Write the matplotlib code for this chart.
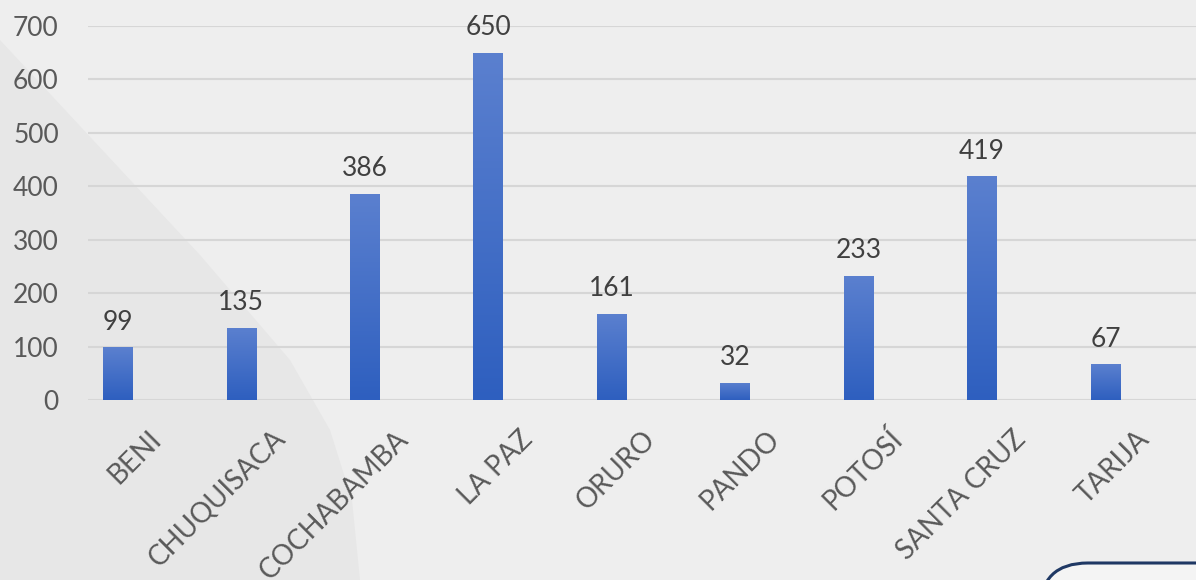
import numpy as np
import matplotlib
matplotlib.use("Agg")
import matplotlib.pyplot as plt
from matplotlib.patches import Polygon, FancyBboxPatch
from matplotlib.transforms import ScaledTranslation

# data
departamentos = ["BENI", "CHUQUISACA", "COCHABAMBA", "LA PAZ", "ORURO",
                 "PANDO", "POTOSÍ", "SANTA CRUZ", "TARIJA"]
casos = [99, 135, 386, 650, 161, 32, 233, 419, 67]
yticks = [0, 100, 200, 300, 400, 500, 600, 700]

plt.rcParams['font.family'] = ['Lato', 'DejaVu Sans']

fig = plt.figure(figsize=(11.96, 5.8), dpi=100)
fig.patch.set_facecolor("#eeeeee")

# darker background shape on the left
shape = Polygon([(0, 1 - 40/580), (200/1196, 1 - 255/580), (290/1196, 1 - 360/580),
                 (330/1196, 1 - 430/580), (352/1196, 1 - 500/580), (360/1196, 0), (0, 0)],
                closed=True, transform=fig.transFigure, facecolor="#e7e7e7",
                edgecolor="none", zorder=-10)
fig.patches.append(shape)

# rounded box in bottom-right corner
box = FancyBboxPatch((1040/1196, -0.1), 0.2, 0.1 + 17/580,
                     boxstyle="round,pad=0,rounding_size=0.04",
                     transform=fig.transFigure, facecolor="#f4f4f4",
                     edgecolor="#1f3864", linewidth=2.2, zorder=-5,
                     mutation_aspect=1196/580)
fig.patches.append(box)

ax = fig.add_axes([88/1196, 180/580, 1 - 88/1196, 374/580])
ax.set_facecolor("none")

x = np.arange(len(departamentos))
bars = ax.bar(x, casos, width=0.235, color="#3f6cc6", zorder=3)

# vertical gradient on each bar
grad = np.linspace(0, 1, 256).reshape(-1, 1)
cmap = matplotlib.colors.LinearSegmentedColormap.from_list("g", ["#2e5fbf", "#5b80cf"])
for b in bars:
    x0, w, h = b.get_x(), b.get_width(), b.get_height()
    im = ax.imshow(grad, extent=[x0, x0 + w, 0, h], origin="lower", cmap=cmap,
                   aspect="auto", zorder=4)
    im.set_clip_path(b)

for xi, v in zip(x, casos):
    ax.annotate(str(v), (xi, v), xytext=(0, 9), textcoords="offset points",
                ha="center", va="bottom", fontsize=19, color="#404040")

ax.set_xlim(-0.239, 8.733)
ax.set_ylim(0, 700)
ax.set_yticks(yticks)
ax.yaxis.grid(True, color="#d6d6d6", linewidth=1.5, zorder=0)
ax.set_axisbelow(True)
for s in ax.spines.values():
    s.set_visible(False)
ax.tick_params(axis="y", length=0, pad=21, labelsize=19, labelcolor="#595959")
ax.tick_params(axis="x", length=0, pad=25, labelsize=20, labelcolor="#595959")

ax.set_xticks(x)
ax.set_xticklabels(departamentos, rotation=45, ha="right", va="center",
                   rotation_mode="anchor")
off = ScaledTranslation(0.40, 0, fig.dpi_scale_trans)
for lab in ax.get_xticklabels():
    lab.set_transform(lab.get_transform() + off)

fig.savefig("out.png", dpi=100, facecolor=fig.get_facecolor())
